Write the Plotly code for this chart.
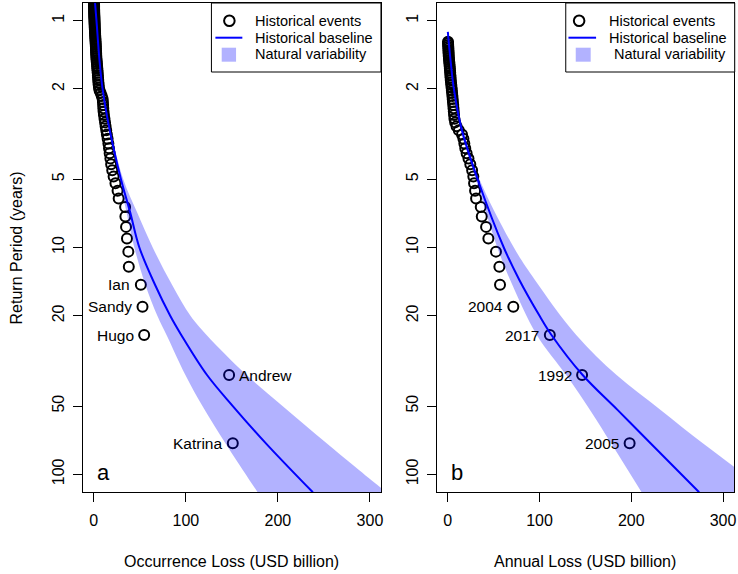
import numpy as np
import plotly.graph_objects as go

W, H = 738, 574
FONT = "Liberation Sans, Arial, Helvetica, sans-serif"

# ---- historical record -------------------------------------------------
N_YEARS = 72  # plotting position T = (N + 1) / rank

# occurrence losses (USD billion), ranked largest first
occurrence_loss = [
    151, 147, 54.7, 52.9, 51.1, 38.0, 37.5, 36.0, 35.0, 34.3,
    34.0, 27.0, 25.8, 23.5, 21.5, 20.0, 18.8, 18.0, 17.2, 16.5,
    15.8, 15.0, 14.2, 13.5, 12.8, 12.2, 11.6, 11.0, 10.6, 10.3,
    10.1, 9.9, 9.6, 8.6, 7.4, 6.2, 5.6, 5.3, 5.0, 4.8,
    4.6, 4.4, 4.2, 4.0, 3.8, 3.6, 3.4, 3.2, 3.0, 2.8,
    2.7, 2.6, 2.5, 2.4, 2.3, 2.2, 2.1, 2.0, 1.9, 1.8,
    1.7, 1.6, 1.5, 1.4, 1.3, 1.2, 1.1, 1.0, 0.95, 0.9,
    0.85, 0.8, 0.75, 0.7, 0.65, 0.6, 0.55, 0.5, 0.47, 0.44,
    0.41, 0.38, 0.35, 0.32, 0.29, 0.26, 0.23, 0.2, 0.18, 0.16,
    0.14, 0.12, 0.1, 0.08, 0.06,
]

# annual aggregate losses (USD billion), ranked largest first
annual_loss = [
    198.2, 146.4, 111.2, 71.4, 56.9, 56.2, 52.5, 44.2, 41.7, 37.0,
    35.9, 30.8, 29.7, 28.6, 27.8, 26.5, 24.5, 22.5, 20.5, 19.0,
    18.0, 17.0, 15.5, 12.0, 9.5, 8.0, 7.2, 6.8, 6.5, 6.2,
    5.9, 5.6, 5.3, 5.0, 4.7, 4.4, 4.1, 3.8, 3.5, 3.2,
    3.0, 2.8, 2.6, 2.4, 2.2, 2.0, 1.8, 1.6, 1.4, 1.2,
    1.0, 0.9, 0.8, 0.7, 0.6, 0.5, 0.4, 0.3, 0.2,
]

event_names = ["Katrina", "Andrew", "Hugo", "Sandy", "Ian"]
event_sides = ["left", "right", "left", "left", "left"]
year_names = ["2005", "1992", "2017", "2004"]

# ---- fitted baseline and natural-variability envelope -------------------
base_rp_a = [0.7, 0.83, 1, 1.5, 2, 3, 5, 7, 10, 14.6, 20, 24.3, 36.5, 50, 73, 120]
base_a = [0.3, 1.3, 2.9, 6.2, 9.5, 17, 29.5, 39.5, 49.5, 66.5, 83, 95, 123, 151, 187, 238]

band_rp_a = [1, 2, 3, 5, 7, 10, 14.6, 20, 24.3, 36.5, 50, 73, 113.5, 125]
band_lo_a = [2.6, 9.0, 16.0, 28.0, 35.5, 44, 56, 69, 79, 99.5, 118, 143, 174, 181]
band_hi_a = [3.2, 10.0, 18.0, 32, 47, 64, 85, 105, 122.5, 166, 205, 253, 310.5, 324]

base_rp_b = [1.12, 1.5, 2, 3, 5, 10, 13.9, 20, 24.3, 36.5, 52, 73, 120]
base_b = [0, 3, 6.6, 15, 32.5, 61, 78, 100, 113, 147, 185, 221, 274]

band_rp_b = [1.12, 2, 3, 5, 10, 13.9, 24.3, 36.5, 52, 73, 92.6, 125]
band_lo_b = [0, 6.0, 13.5, 30.5, 54, 68, 97, 129, 155, 178, 194, 214]
band_hi_b = [0.5, 7.2, 16.5, 34.5, 72, 95, 140, 184, 232, 278, 312, 356]

x_ticks = [0, 100, 200, 300]
y_ticks = [1, 2, 5, 10, 20, 50, 100]

BAND = "rgba(0,0,255,0.3)"


def ppx(x):
    return x / W


def ppy(y):
    return 1 - y / H


fig = go.Figure()


def add_panel(xa, ya, losses, base_rp, base, band_rp, lo, hi):
    rp = [(N_YEARS + 1) / (k + 1) for k in range(len(losses))]
    fig.add_trace(go.Scatter(
        x=losses, y=rp, mode="markers", xaxis=xa, yaxis=ya,
        marker=dict(symbol="circle-open", size=10, color="black",
                    line=dict(width=2, color="black")),
        hoverinfo="skip"))
    fig.add_trace(go.Scatter(
        x=lo, y=band_rp, mode="lines", xaxis=xa, yaxis=ya,
        line=dict(width=0, shape="spline", color=BAND), hoverinfo="skip"))
    fig.add_trace(go.Scatter(
        x=hi, y=band_rp, mode="lines", xaxis=xa, yaxis=ya, fill="tonextx",
        fillcolor=BAND, line=dict(width=0, shape="spline", color=BAND),
        hoverinfo="skip"))
    fig.add_trace(go.Scatter(
        x=base, y=base_rp, mode="lines", xaxis=xa, yaxis=ya,
        line=dict(width=2, color="#0000ff", shape="spline"), hoverinfo="skip"))
    return rp


rp_a = add_panel("x", "y", occurrence_loss, base_rp_a, base_a, band_rp_a, band_lo_a, band_hi_a)
rp_b = add_panel("x2", "y2", annual_loss, base_rp_b, base_b, band_rp_b, band_lo_b, band_hi_b)

annotations = []
label_font = dict(family=FONT, size=15.5, color="black")

for k, (name, side) in enumerate(zip(event_names, event_sides)):
    annotations.append(dict(
        x=occurrence_loss[k], y=np.log10(rp_a[k]), xref="x", yref="y",
        text=name, showarrow=False, font=label_font, borderpad=0, borderwidth=0,
        xanchor="right" if side == "left" else "left",
        xshift=-10.5 if side == "left" else 10, yanchor="middle"))

for k, name in enumerate(year_names):
    annotations.append(dict(
        x=annual_loss[k], y=np.log10(rp_b[k]), xref="x2", yref="y2",
        text=name, showarrow=False, font=label_font, borderpad=0, borderwidth=0,
        xanchor="right", xshift=-10.5, yanchor="middle"))

# panel letters
for letter, xr, yr in [("a", "x", "y"), ("b", "x2", "y2")]:
    annotations.append(dict(
        x=10, y=2, xref=xr, yref=yr, text=letter, showarrow=False,
        font=dict(family=FONT, size=22, color="black"), xanchor="center",
        yanchor="middle", yshift=2, borderpad=0))

axis_font = dict(family=FONT, size=16, color="black")
annotations += [
    dict(x=ppx(232.5), y=ppy(561), xref="paper", yref="paper",
         xanchor="center", yanchor="middle",
         text="Occurrence Loss (USD billion)", showarrow=False, font=axis_font),
    dict(x=ppx(587), y=ppy(561), xref="paper", yref="paper",
         xanchor="center", yanchor="middle",
         text="Annual Loss (USD billion)", showarrow=False, font=axis_font),
    dict(x=ppx(17), y=ppy(247.5), xref="paper", yref="paper", textangle=-90,
         xanchor="center", yanchor="middle",
         text="Return Period (years)", showarrow=False, font=axis_font),
]

# legends
shapes = []
leg_font = dict(family=FONT, size=14.5, color="black")


def add_legend(box, circ_x, line_x, sq_x, text_x):
    x0, x1 = box
    shapes.append(dict(type="rect", xref="paper", yref="paper",
                       x0=ppx(x0), x1=ppx(x1), y0=ppy(72), y1=ppy(3),
                       line=dict(color="black", width=1), fillcolor="white"))
    r = 5.3
    shapes.append(dict(type="circle", xref="paper", yref="paper",
                       x0=ppx(circ_x - r), x1=ppx(circ_x + r),
                       y0=ppy(20.7 + r), y1=ppy(20.7 - r),
                       line=dict(color="black", width=2)))
    shapes.append(dict(type="line", xref="paper", yref="paper",
                       x0=ppx(line_x[0]), x1=ppx(line_x[1]),
                       y0=ppy(37.7), y1=ppy(37.7),
                       line=dict(color="#0000ff", width=2)))
    shapes.append(dict(type="rect", xref="paper", yref="paper",
                       x0=ppx(sq_x[0]), x1=ppx(sq_x[1]),
                       y0=ppy(61.7), y1=ppy(47.7),
                       line=dict(width=0), fillcolor=BAND))
    for txt, tx, ty in zip(["Historical events", "Historical baseline", "Natural variability"],
                           text_x, [20.7, 37.7, 54.3]):
        annotations.append(dict(x=ppx(tx), y=ppy(ty), xref="paper", yref="paper",
                                text=txt, showarrow=False, font=leg_font,
                                xanchor="left", yanchor="middle", borderpad=0))


add_legend((212, 382), 230, (216, 243), (222.3, 236.7), [255, 255, 255])
add_legend((567.3, 736.7), 580.7, (570, 597.7), (577.3, 592.3), [610, 610, 615])

xcommon = dict(range=[-12, 312], tickvals=x_ticks, ticks="outside", ticklen=9,
               tickwidth=1, tickcolor="black", showline=True, mirror=True,
               linecolor="black", linewidth=1, showgrid=False, zeroline=False,
               tickfont=axis_font, ticklabelstandoff=5)
ycommon = dict(type="log", range=[2.078, -0.078], tickvals=y_ticks,
               ticktext=[str(v) for v in y_ticks], tickangle=-90,
               ticks="outside", ticklen=9, tickwidth=1, tickcolor="black",
               showline=True, mirror=True, linecolor="black", linewidth=1,
               showgrid=False, zeroline=False, tickfont=axis_font,
               ticklabelstandoff=2)

ydom = [ppy(492), ppy(3)]
fig.update_layout(
    width=W, height=H, margin=dict(l=0, r=0, t=0, b=0),
    paper_bgcolor="white", plot_bgcolor="white", showlegend=False,
    font=dict(family=FONT),
    xaxis=dict(domain=[ppx(83), ppx(382)], anchor="y", **xcommon),
    yaxis=dict(domain=ydom, anchor="x", **ycommon),
    xaxis2=dict(domain=[ppx(438), ppx(736)], anchor="y2", **xcommon),
    yaxis2=dict(domain=ydom, anchor="x2", **ycommon),
    annotations=annotations, shapes=shapes,
)

fig.write_html("out.html")
